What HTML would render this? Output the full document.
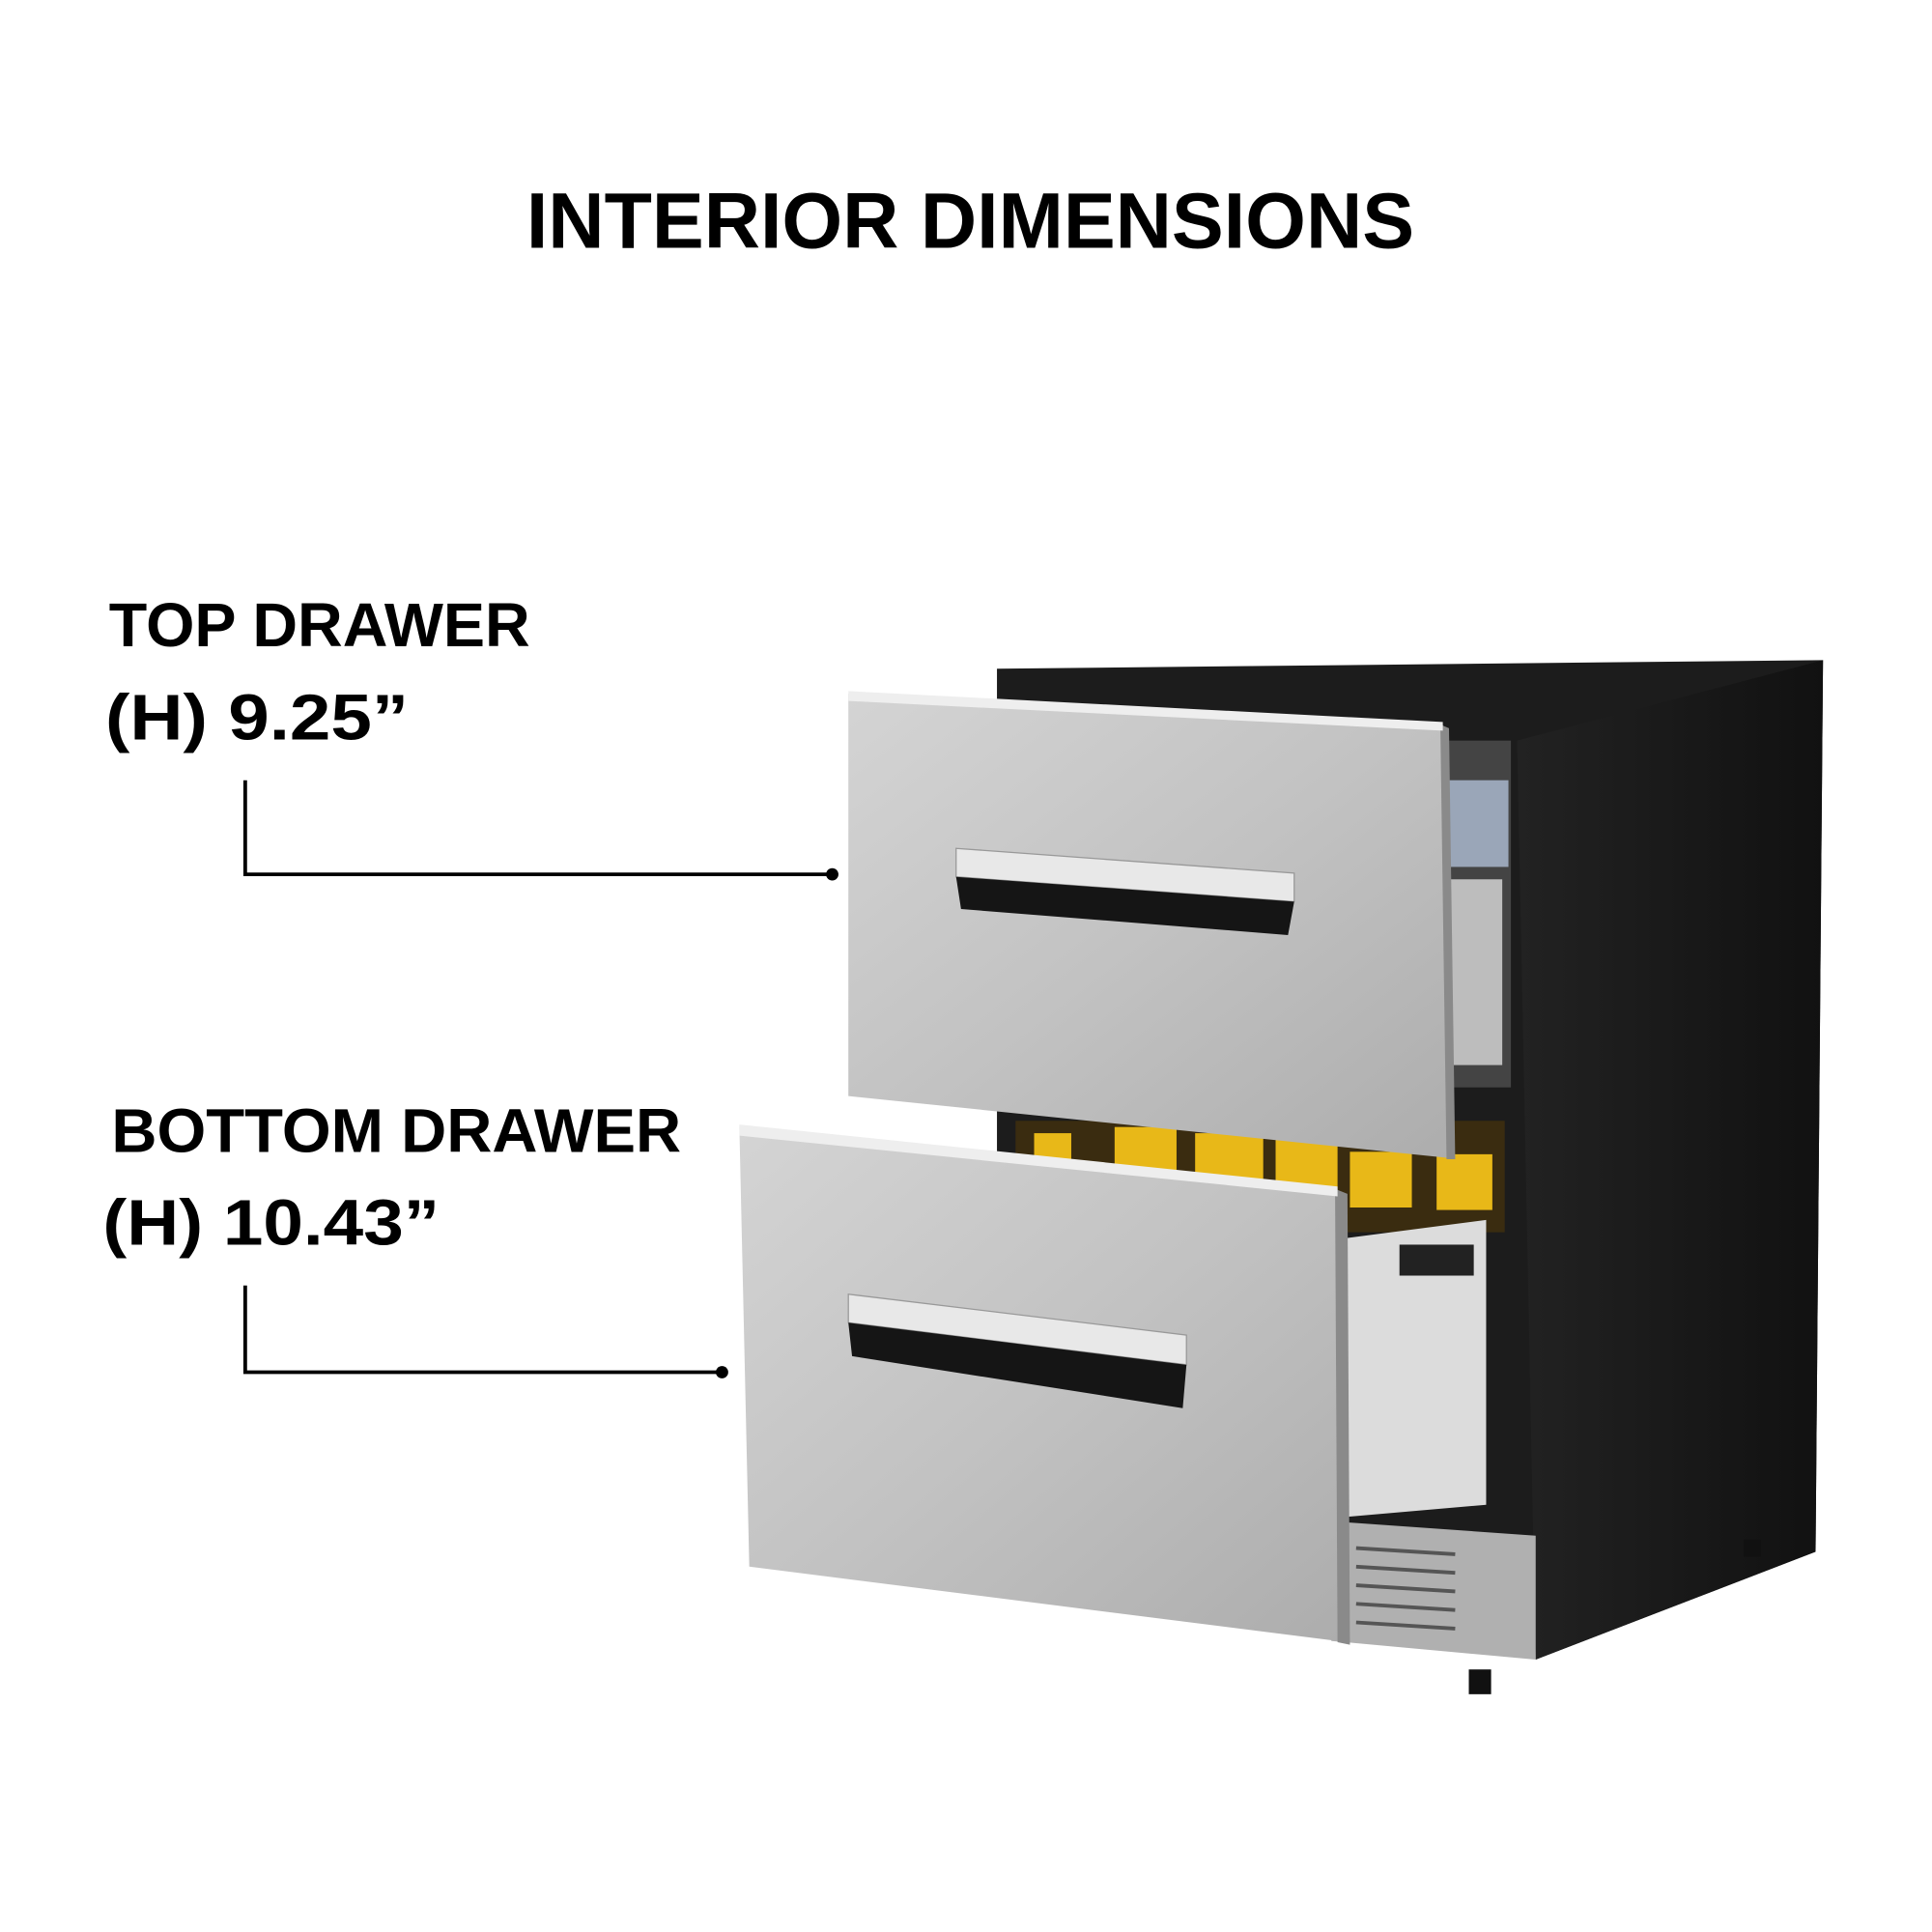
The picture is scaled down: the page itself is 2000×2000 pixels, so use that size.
<!DOCTYPE html>
<html><head><style>
html,body{margin:0;padding:0;background:#fff}
svg{display:block}
text{font-family:"Liberation Sans",sans-serif;font-weight:bold;fill:#000}
</style></head><body>
<svg width="2000" height="2000" viewBox="0 0 1560 1560" xmlns="http://www.w3.org/2000/svg">
<defs>
<linearGradient id="steel" x1="0" y1="0" x2="1" y2="1">
<stop offset="0" stop-color="#d4d4d4"/><stop offset="0.5" stop-color="#c2c2c2"/><stop offset="1" stop-color="#adadad"/>
</linearGradient>
<linearGradient id="side" x1="0" y1="0" x2="1" y2="0">
<stop offset="0" stop-color="#222"/><stop offset="1" stop-color="#111"/>
</linearGradient>
</defs>
<text x="425" y="200" font-size="64" textLength="717" lengthAdjust="spacingAndGlyphs">INTERIOR DIMENSIONS</text>
<text x="88" y="522" font-size="50" textLength="340" lengthAdjust="spacingAndGlyphs">TOP DRAWER</text>
<text x="85" y="597" font-size="52" textLength="245" lengthAdjust="spacingAndGlyphs">(H)  9.25”</text>
<text x="90" y="930" font-size="50" textLength="460" lengthAdjust="spacingAndGlyphs">BOTTOM DRAWER</text>
<text x="83" y="1005" font-size="52" textLength="272" lengthAdjust="spacingAndGlyphs">(H)  10.43”</text>
<polyline points="198,630 198,706 672,706" fill="none" stroke="#000" stroke-width="3"/>
<circle cx="672" cy="706" r="5"/>
<polyline points="198,1038 198,1108 583,1108" fill="none" stroke="#000" stroke-width="3"/>
<circle cx="583" cy="1108" r="5"/>

<!-- cabinet -->
<polygon points="805,540 1472,533 1466,1253 1240,1340 1240,1240 805,1240" fill="#1c1c1c"/>
<polygon points="1225,598 1472,533 1466,1253 1240,1340" fill="url(#side)"/>
<rect x="1165" y="598" width="55" height="280" fill="#444"/>
<rect x="1168" y="630" width="50" height="70" fill="#9aa6b8"/>
<rect x="1168" y="710" width="45" height="150" fill="#bdbdbd"/>
<rect x="820" y="905" width="395" height="90" fill="#3a2c10"/>
<g fill="#e8b818">
<rect x="835" y="915" width="30" height="55"/><rect x="900" y="910" width="50" height="45"/><rect x="965" y="915" width="55" height="40"/><rect x="1030" y="920" width="50" height="40"/><rect x="1090" y="930" width="50" height="45"/><rect x="1160" y="932" width="45" height="45"/>
</g>
<polygon points="1085,1000 1200,985 1200,1215 1085,1225" fill="#dcdcdc"/>
<rect x="1130" y="1005" width="60" height="25" fill="#222"/>
<!-- grill box -->
<polygon points="1070,1228 1240,1240 1240,1340 1075,1325" fill="#b0b0b0"/>
<g stroke="#555" stroke-width="3">
<line x1="1095" y1="1250" x2="1175" y2="1255"/><line x1="1095" y1="1265" x2="1175" y2="1270"/><line x1="1095" y1="1280" x2="1175" y2="1285"/><line x1="1095" y1="1295" x2="1175" y2="1300"/><line x1="1095" y1="1310" x2="1175" y2="1315"/>
</g>
<rect x="1186" y="1348" width="18" height="20" fill="#111"/>
<rect x="1408" y="1243" width="14" height="14" fill="#111"/>
<rect x="793" y="1270" width="20" height="14" fill="#111"/>

<!-- top drawer -->
<polygon points="685,560 1165,585 1170,935 685,885" fill="url(#steel)"/>
<polygon points="1163,585 1170,588 1175,936 1168,936" fill="#8a8a8a"/>
<polygon points="685,558 1165,583 1165,590 685,566" fill="#eee"/>
<polygon points="772,685 1045,705 1045,728 772,708" fill="#e8e8e8" stroke="#999"/>
<polygon points="772,708 1045,728 1040,755 776,734" fill="#151515"/>

<!-- bottom drawer -->
<polygon points="597,910 1080,960 1080,1325 605,1265" fill="url(#steel)"/>
<polygon points="1078,960 1088,964 1090,1328 1080,1326" fill="#8a8a8a"/>
<polygon points="597,908 1080,958 1080,966 597,917" fill="#eee"/>
<polygon points="685,1045 958,1078 958,1102 685,1068" fill="#e8e8e8" stroke="#999"/>
<polygon points="685,1068 958,1102 955,1137 688,1095" fill="#151515"/>
</svg>
</body></html>
